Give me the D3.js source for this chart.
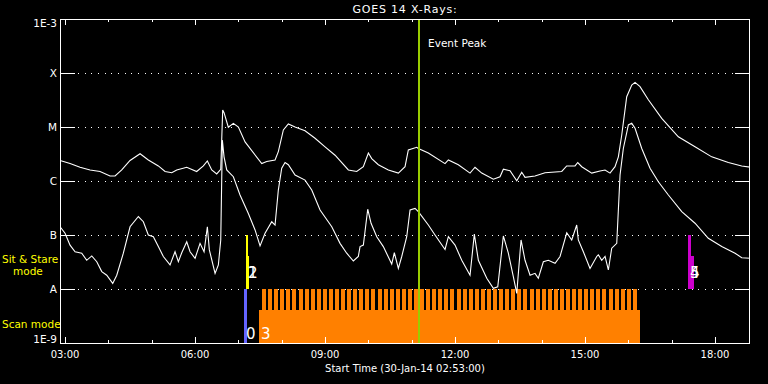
<!DOCTYPE html>
<html><head><meta charset="utf-8">
<script src="https://cdn.jsdelivr.net/npm/d3@7/dist/d3.min.js"></script>
<style>
html,body{margin:0;padding:0;background:#000;}
svg{display:block;background:#000;}
text{font-family:"DejaVu Sans",sans-serif;fill:#fff;}
</style></head><body>
<svg id="chart" width="768" height="384"></svg>
<script>
// ---------- data ----------
const chartTitle = "GOES 14 X-Rays:";
const xAxisTitle = "Start Time (30-Jan-14 02:53:00)";
const timeStart = 2.8833, timeEnd = 18.807;          // hours, 30-Jan-14
const hourTicks = [3,4,5,6,7,8,9,10,11,12,13,14,15,16,17,18];
const labeledHours = [3,6,9,12,15,18];
const hourLabels = ["03:00","06:00","09:00","12:00","15:00","18:00"];
const fluxTicks = [1e-9,1e-8,1e-7,1e-6,1e-5,1e-4,1e-3];
const fluxLabels = ["1E-9","A","B","C","M","X","1E-3"];
const gridFlux = [1e-8,1e-7,1e-6,1e-5,1e-4];

// GOES long channel (1-8 A)
const longTime = [2.885,3.115,3.346,3.577,3.808,4.038,4.154,4.308,4.5,4.731,
  4.922,5.153,5.308,5.462,5.577,5.808,6.038,6.192,6.284,6.385,
  6.5,6.593,6.638,6.669,6.768,6.884,7.0,7.154,7.539,7.654,
  7.846,7.922,8.038,8.153,8.308,8.538,8.769,9.0,9.231,9.538,
  9.731,9.884,10.0,10.077,10.23,10.461,10.692,10.846,10.922,11.116,
  11.153,11.384,11.769,11.846,12.076,12.346,12.461,12.616,12.884,13.038,
  13.115,13.269,13.424,13.539,13.615,13.846,14.077,14.462,14.577,14.769,
  14.832,14.924,15.155,15.346,15.462,15.577,15.692,15.769,15.847,15.962,
  16.078,16.154,16.269,16.461,16.77,17.153,17.538,17.924,18.307,18.616,18.831];
const longFlux = [2.4e-6,2.1e-6,1.8e-6,1.6e-6,1.5e-6,1.24e-6,1.24e-6,1.6e-6,2.4e-6,3.2e-6,
  2.45e-6,1.9e-6,1.5e-6,1.42e-6,1.6e-6,1.8e-6,1.5e-6,1.9e-6,2.35e-6,1.6e-6,
  1.35e-6,1.65e-6,2.06e-5,1.84e-5,9.9e-6,1.17e-5,1.0e-5,5.3e-6,2.1e-6,2.3e-6,
  2.45e-6,3.5e-6,8.8e-6,1.14e-5,1.0e-5,8.5e-6,6.2e-6,4.3e-6,3.0e-6,1.6e-6,
  1.5e-6,1.84e-6,3.3e-6,2.6e-6,2.0e-6,1.6e-6,1.4e-6,1.84e-6,3.75e-6,4.2e-6,
  4.0e-6,3.3e-6,2.1e-6,2.45e-6,2.0e-6,1.4e-6,1.8e-6,1.4e-6,1.08e-6,1.2e-6,
  1.65e-6,1.55e-6,1.01e-6,1.45e-6,1.17e-6,1.24e-6,1.42e-6,1.5e-6,1.9e-6,1.9e-6,
  2.2e-6,1.84e-6,1.4e-6,1.53e-6,1.6e-6,1.4e-6,1.84e-6,2.8e-6,7.1e-6,3.64e-5,
  6.0e-5,6.7e-5,5.6e-5,3.2e-5,1.45e-5,6.6e-6,4.3e-6,2.8e-6,2.2e-6,1.9e-6,1.8e-6];

// GOES short channel (0.5-4 A)
const shortTime = [2.885,3.0,3.115,3.231,3.385,3.5,3.616,3.732,3.847,3.962,
  4.1,4.193,4.345,4.5,4.692,4.807,4.922,5.038,5.153,5.268,
  5.423,5.538,5.615,5.693,5.808,5.885,6.0,6.115,6.208,6.284,
  6.33,6.462,6.538,6.593,6.63,6.669,6.731,6.884,7.038,7.23,
  7.385,7.5,7.615,7.77,7.846,7.922,8.0,8.077,8.153,8.308,
  8.538,8.693,8.885,9.155,9.346,9.5,9.653,9.768,9.808,9.884,
  9.985,10.062,10.193,10.345,10.539,10.599,10.692,10.77,10.885,10.962,
  11.077,11.153,11.384,11.538,11.769,11.846,12.0,12.155,12.346,12.445,
  12.538,12.732,12.884,12.986,13.115,13.23,13.345,13.424,13.523,13.615,
  13.731,13.846,13.922,14.038,14.153,14.308,14.423,14.578,14.693,14.808,
  14.845,14.961,15.115,15.27,15.307,15.385,15.462,15.538,15.616,15.732,
  15.808,15.884,16.0,16.078,16.154,16.309,16.5,16.692,16.923,17.232,
  17.538,17.845,18.155,18.462,18.616,18.831];
const shortFlux = [1.42e-7,1.08e-7,6.5e-8,4.9e-8,4.6e-8,3.4e-8,4.1e-8,3.2e-8,2.1e-8,1.8e-8,
  1.27e-8,1.8e-8,4.6e-8,1.42e-7,2.2e-7,1.76e-7,1.0e-7,9.3e-8,6.1e-8,4.0e-8,
  2.8e-8,4.9e-8,3.2e-8,4.7e-8,7.5e-8,4.9e-8,3.7e-8,7.0e-8,4.9e-8,1.42e-7,
  5.3e-8,1.95e-8,2.8e-8,8.1e-8,5.75e-6,2.8e-6,1.6e-6,1.2e-6,5.5e-7,2.5e-7,
  1.24e-7,6.3e-8,1.08e-7,1.76e-7,1.53e-7,6.8e-7,1.72e-6,2.2e-6,2.0e-6,1.29e-6,
  1.04e-6,6.8e-7,2.9e-7,1.42e-7,7.0e-8,4.6e-8,3.3e-8,4.0e-8,6.1e-8,6.5e-8,
  3.0e-7,1.65e-7,9.3e-8,6.1e-8,2.9e-8,4.7e-8,2.4e-8,4.0e-8,9.3e-8,2.9e-7,
  3.1e-7,2.7e-7,1.53e-7,1.0e-7,5.4e-8,9.3e-8,6.5e-8,3.4e-8,1.8e-8,1.04e-7,
  3.4e-8,1.58e-8,1.03e-8,1.1e-8,9.6e-8,4.6e-8,1.7e-8,8.3e-9,8.1e-8,3.4e-8,
  1.8e-8,1.95e-8,1.58e-8,3.2e-8,3.4e-8,3.0e-8,4.0e-8,1.1e-7,8.1e-8,1.53e-7,
  8.1e-8,4.9e-8,2.4e-8,4.0e-8,4.3e-8,3.4e-8,4.0e-8,2.25e-8,5.7e-8,7.0e-8,
  1.29e-6,4.0e-6,1.09e-5,1.17e-5,9.5e-6,4.0e-6,1.72e-6,9.7e-7,5.5e-7,2.7e-7,
  1.65e-7,8.7e-8,6.1e-8,4.6e-8,3.8e-8,3.7e-8];

const eventPeakTime = 11.169;
const eventPeakLabel = "Event Peak";

// observing-mode events: id, start, end (hours), top/bottom flux levels, colour
const eventIds    = ["0","1","2","4","5"];
const eventStart  = [7.131, 7.177, 7.177, 17.377, 17.377];
const eventEnd    = [7.200, 7.223, 7.246, 17.446, 17.515];
const eventTop    = [1e-8, 1e-7, 4.1e-8, 1e-7, 4.1e-8];
const eventBottom = [1e-9, 1e-8, 1e-8, 1e-8, 1e-8];
const eventColor  = ["#6464ff","#ffff00","#ffff00","#cc00cc","#cc00cc"];

// scan-mode block (event 3) with individual raster scans
const scanId = "3";
const scanBlockStart = 7.477, scanBlockEnd = 16.269;
const scanBlockTop = 4.1e-9, scanToothTop = 1e-8;
const scanDuration = 0.092;
const scanTimes = [7.546,7.686,7.827,7.967,8.107,8.248,8.388,8.528,8.668,8.809,
  8.949,9.089,9.230,9.370,9.510,9.651,9.791,9.931,10.071,10.212,
  10.352,10.492,10.633,10.773,10.913,11.054,11.194,11.334,11.474,11.615,
  11.755,11.895,12.036,12.176,12.316,12.457,12.597,12.737,12.877,13.018,
  13.158,13.298,13.439,13.579,13.719,13.860,14.000,14.140,14.280,14.421,
  14.561,14.701,14.842,14.982,15.122,15.263,15.403,15.543,15.683,15.824,
  15.964,16.104];
const scanColor = "#ff8000";

const modeLabels = [
  {lines:["Sit & Stare"," mode"], color:"#ffff00"},
  {lines:["Scan mode"], color:"#ffff00"}
];

// ---------- drawing ----------
const L = 60, R = 750, T = 19, B = 343;
const svg = d3.select("#chart");
const x = d3.scaleLinear().domain([timeStart, timeEnd]).range([L, R]);
const y = d3.scaleLog().domain([1e-9, 1e-3]).range([B, T]);

svg.append("defs").append("clipPath").attr("id","clip")
  .append("rect").attr("x",L).attr("y",T).attr("width",R-L).attr("height",B-T);

// grid lines (dotted) and solid side ticks
const grid = svg.append("g").attr("shape-rendering","crispEdges");
grid.selectAll("line.dot").data(gridFlux).join("line")
  .attr("x1",78).attr("x2",735)
  .attr("y1",d=>Math.round(y(d))+0.5).attr("y2",d=>Math.round(y(d))+0.5)
  .attr("stroke","#fff").attr("stroke-width",1).attr("stroke-dasharray","1,5.67");
grid.selectAll("line.lt").data(gridFlux).join("line")
  .attr("x1",L).attr("x2",L+15)
  .attr("y1",d=>Math.round(y(d))+0.5).attr("y2",d=>Math.round(y(d))+0.5)
  .attr("stroke","#fff");
grid.selectAll("line.rt").data(gridFlux).join("line")
  .attr("class","rt")
  .attr("x1",R-15).attr("x2",R)
  .attr("y1",d=>Math.round(y(d))+0.5).attr("y2",d=>Math.round(y(d))+0.5)
  .attr("stroke","#fff");

// scan block
const scanG = svg.append("g").attr("fill",scanColor).attr("shape-rendering","crispEdges");
scanG.append("rect")
  .attr("x",x(scanBlockStart)).attr("y",y(scanBlockTop))
  .attr("width",x(scanBlockEnd)-x(scanBlockStart)).attr("height",y(1e-9)-y(scanBlockTop));
scanG.selectAll("rect.tooth").data(scanTimes).join("rect")
  .attr("class","tooth")
  .attr("x",d=>x(d)).attr("y",y(scanToothTop))
  .attr("width",d=>x(d+scanDuration)-x(d)).attr("height",y(scanBlockTop)-y(scanToothTop)+1);

// events
const events = eventIds.map((id,i)=>({id,s:eventStart[i],e:eventEnd[i],t:eventTop[i],b:eventBottom[i],c:eventColor[i]}));
svg.append("g").attr("shape-rendering","crispEdges").selectAll("rect").data(events).join("rect")
  .attr("x",d=>x(d.s)).attr("y",d=>y(d.t))
  .attr("width",d=>x(d.e)-x(d.s)).attr("height",d=>y(d.b)-y(d.t))
  .attr("fill",d=>d.c);

// curves
const line = d3.line().x(d=>x(d[0])).y(d=>y(d[1]));
const curves = svg.append("g").attr("clip-path","url(#clip)");
curves.append("path").datum(longTime.map((t,i)=>[t,longFlux[i]]))
  .attr("d",line).attr("fill","none").attr("stroke","#fff").attr("stroke-width",1.1);
curves.append("path").datum(shortTime.map((t,i)=>[t,shortFlux[i]]))
  .attr("d",line).attr("fill","none").attr("stroke","#fff").attr("stroke-width",1.1);

// event peak line
svg.append("line").attr("x1",x(eventPeakTime)).attr("x2",x(eventPeakTime))
  .attr("y1",T).attr("y2",B).attr("stroke","#99cc00").attr("stroke-width",2)
  .attr("shape-rendering","crispEdges");
svg.append("text").attr("x",x(eventPeakTime)+9).attr("y",47)
  .attr("font-size","10.5px").text(eventPeakLabel);

// event number labels
const numG = svg.append("g").attr("font-family","Liberation Sans, sans-serif").attr("font-size","15px");
numG.selectAll("text").data(events).join("text")
  .attr("x",d=>x(d.s)+2)
  .attr("y",d=>d.b===1e-9 ? y(1e-9)-4 : y(d.b)-11)
  .text(d=>d.id);
numG.append("text").attr("x",x(scanBlockStart)+2).attr("y",y(1e-9)-4).text(scanId);

// frame
svg.append("rect").attr("x",L+0.5).attr("y",T+0.5).attr("width",R-L-1).attr("height",B-T)
  .attr("fill","none").attr("stroke","#fff").attr("shape-rendering","crispEdges");

// hourly ticks, top & bottom
const tk = svg.append("g").attr("stroke","#fff").attr("shape-rendering","crispEdges");
const isMajor = h => labeledHours.includes(h);
tk.selectAll("line.b").data(hourTicks).join("line").attr("class","b")
  .attr("x1",d=>Math.round(x(d))+0.5).attr("x2",d=>Math.round(x(d))+0.5)
  .attr("y1",B).attr("y2",d=>B-(isMajor(d)?6:3));
tk.selectAll("line.t").data(hourTicks).join("line").attr("class","t")
  .attr("x1",d=>Math.round(x(d))+0.5).attr("x2",d=>Math.round(x(d))+0.5)
  .attr("y1",T).attr("y2",d=>T+(isMajor(d)?6:3));

// x labels
svg.append("g").attr("font-size","10px").attr("text-anchor","middle")
  .selectAll("text").data(labeledHours).join("text")
  .attr("x",d=>x(d)).attr("y",358).text((d,i)=>hourLabels[i]);
svg.append("text").attr("x",(L+R)/2).attr("y",372).attr("text-anchor","middle")
  .attr("font-size","10px").text(xAxisTitle);

// y labels
svg.append("g").attr("font-size","10.5px").attr("text-anchor","end")
  .selectAll("text").data(fluxTicks).join("text")
  .attr("x",57)
  .attr("y",(d,i)=> i===0 ? y(d) : (i===fluxTicks.length-1 ? y(d)+8 : y(d)+4))
  .text((d,i)=>fluxLabels[i]);

// title
svg.append("text").attr("x",(L+R)/2).attr("y",13).attr("text-anchor","middle")
  .attr("font-size","11px").attr("letter-spacing","0.8px").text(chartTitle);

// mode labels
const ml = svg.append("g").attr("font-size","10.5px");
ml.append("text").attr("x",2).attr("y",263).attr("fill",modeLabels[0].color).style("fill",modeLabels[0].color)
  .attr("xml:space","preserve").text(modeLabels[0].lines[0]);
ml.append("text").attr("x",13).attr("y",275).style("fill",modeLabels[0].color).text(modeLabels[0].lines[1].trim());
ml.append("text").attr("x",2).attr("y",328).style("fill",modeLabels[1].color).text(modeLabels[1].lines[0]);
</script>
</body></html>
